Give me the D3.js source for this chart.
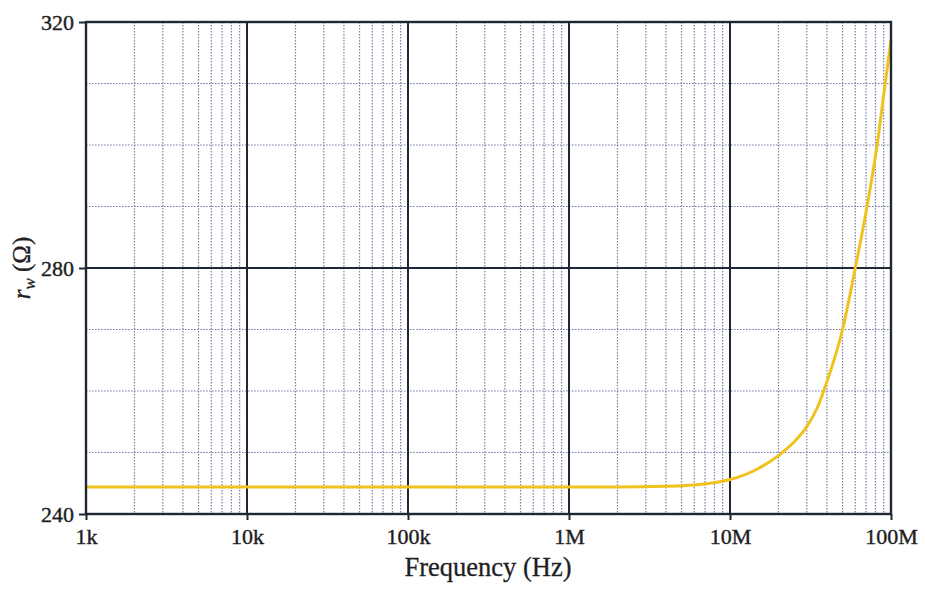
<!DOCTYPE html>
<html>
<head>
<meta charset="utf-8">
<script src="https://cdn.jsdelivr.net/npm/d3@7"></script>
<style>
  html, body { margin: 0; padding: 0; background: #ffffff; }
  svg { display: block; }
</style>
</head>
<body>
<svg id="chart" width="925" height="594"></svg>
<script>
// Wire resistance r_w versus frequency
const freqHz = [1e3, 1e4, 1e5, 1e6, 2e6, 4e6, 6e6, 8e6, 1e7, 1.5e7, 2e7, 2.5e7, 3e7, 3.5e7, 4e7, 5e7, 6e7, 7.1e7, 8.2e7, 9.2e7, 1e8];
const rwOhm  = [244.4, 244.4, 244.4, 244.4, 244.4, 244.5, 244.7, 245.1, 245.6, 247.4, 249.5, 251.7, 254.2, 257.4, 261.5, 270, 280, 290, 300, 310, 317.1];

const xTickValues = [1e3, 1e4, 1e5, 1e6, 1e7, 1e8];
const xTickLabels = ["1k", "10k", "100k", "1M", "10M", "100M"];
const yTickValues = [240, 280, 320];
const yMinorValues = [250, 260, 270, 290, 300, 310];

const svg = d3.select("#chart");
const margin = { left: 86, top: 22, right: 34, bottom: 80 };
const W = 925, H = 594;
const x0 = margin.left, x1 = W - margin.right;
const y0 = margin.top, y1 = H - margin.bottom;

const x = d3.scaleLog().domain([1e3, 1e8]).range([x0, x1]);
const y = d3.scaleLinear().domain([240, 320]).range([y1, y0]);

const dark = "#1f2634";
const textColor = "#1e1e24";
const minorColor = "#7a7fab";
const font = "'Liberation Serif', 'Times New Roman', serif";

// minor vertical grid: 2..9 within each decade
const minorX = [];
for (let d = 0; d < 5; d++) {
  for (let m = 2; m <= 9; m++) minorX.push(1e3 * Math.pow(10, d) * m);
}
svg.append("g").selectAll("line").data(minorX).join("line")
  .attr("x1", d => x(d)).attr("x2", d => x(d))
  .attr("y1", y0).attr("y2", y1)
  .attr("stroke", minorColor).attr("stroke-width", 1.2)
  .attr("stroke-dasharray", "1.6,1.4");

// minor horizontal grid
svg.append("g").selectAll("line").data(yMinorValues).join("line")
  .attr("x1", x0).attr("x2", x1)
  .attr("y1", d => y(d)).attr("y2", d => y(d))
  .attr("stroke", minorColor).attr("stroke-width", 1.2)
  .attr("stroke-dasharray", "1.6,1.4");

// major grid
svg.append("g").selectAll("line").data(xTickValues.slice(1, -1)).join("line")
  .attr("x1", d => x(d)).attr("x2", d => x(d))
  .attr("y1", y0).attr("y2", y1)
  .attr("stroke", dark).attr("stroke-width", 2);
svg.append("g").selectAll("line").data([280]).join("line")
  .attr("x1", x0).attr("x2", x1)
  .attr("y1", d => y(d)).attr("y2", d => y(d))
  .attr("stroke", dark).attr("stroke-width", 2);

// curve
const line = d3.line()
  .x((d, i) => x(freqHz[i]))
  .y(d => y(d))
  .curve(d3.curveMonotoneX);
svg.append("path")
  .datum(rwOhm)
  .attr("d", line)
  .attr("fill", "none")
  .attr("stroke", "#efc31c")
  .attr("stroke-width", 3);

// frame
svg.append("rect")
  .attr("x", x0).attr("y", y0)
  .attr("width", x1 - x0).attr("height", y1 - y0)
  .attr("fill", "none").attr("stroke", dark).attr("stroke-width", 2.4);

// axes
const xAxis = d3.axisBottom(x)
  .tickValues(xTickValues)
  .tickFormat((d, i) => xTickLabels[i])
  .tickSize(6).tickPadding(8);
const gx = svg.append("g").attr("transform", `translate(0,${y1})`).call(xAxis);
gx.select(".domain").remove();
gx.selectAll(".tick line").attr("stroke", dark).attr("stroke-width", 2);
gx.selectAll(".tick text")
  .attr("fill", textColor).attr("stroke", textColor).attr("stroke-width", 0.4)
  .style("font-family", font).style("font-size", "22px");

const yAxis = d3.axisLeft(y)
  .tickValues(yTickValues)
  .tickFormat(d3.format("d"))
  .tickSize(7).tickPadding(5);
const gy = svg.append("g").attr("transform", `translate(${x0},0)`).call(yAxis);
gy.select(".domain").remove();
gy.selectAll(".tick line").attr("stroke", dark).attr("stroke-width", 2);
gy.selectAll(".tick text")
  .attr("fill", textColor).attr("stroke", textColor).attr("stroke-width", 0.4)
  .style("font-family", font).style("font-size", "22px");

// axis titles
svg.append("text")
  .attr("x", 488).attr("y", 576)
  .attr("text-anchor", "middle")
  .attr("fill", textColor).attr("stroke", textColor).attr("stroke-width", 0.3)
  .style("font-family", font).style("font-size", "26.5px")
  .text("Frequency (Hz)");

const yt = svg.append("text")
  .attr("transform", `translate(30,${(y0 + y1) / 2}) rotate(-90)`)
  .attr("text-anchor", "middle")
  .attr("fill", textColor).attr("stroke", textColor).attr("stroke-width", 0.3)
  .style("font-family", font).style("font-size", "25px");
yt.append("tspan").style("font-style", "italic").text("r");
yt.append("tspan").style("font-style", "italic").style("font-size", "17px").attr("dy", 5).text("w");
yt.append("tspan").attr("dy", -5).text(" (Ω)");
</script>
</body>
</html>
